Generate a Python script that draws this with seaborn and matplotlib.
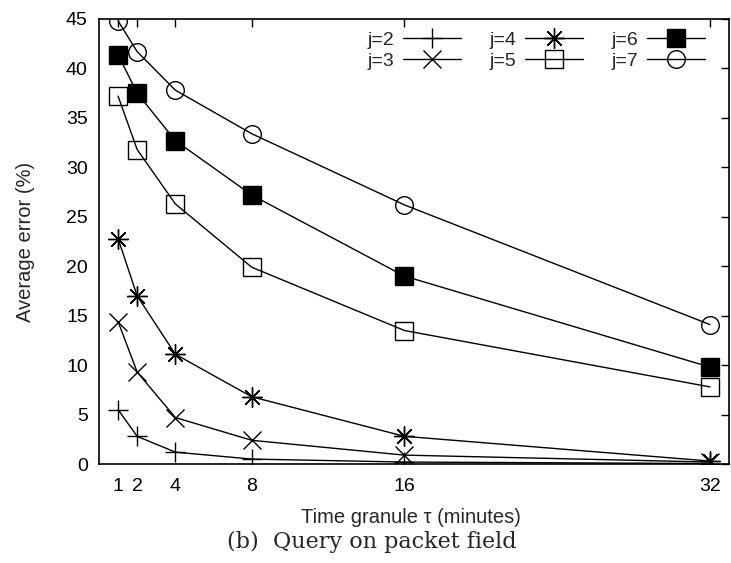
import matplotlib
matplotlib.use("Agg")
import matplotlib.pyplot as plt
import seaborn as sns
import pandas as pd

sns.set_theme(style="white")
plt.rcParams['font.family'] = ['Liberation Sans', 'DejaVu Sans']

x_vals = [1, 2, 4, 8, 16, 32]
j2 = [5.5, 2.8, 1.2, 0.5, 0.2, 0.05]
j3 = [14.4, 9.3, 4.7, 2.4, 0.9, 0.2]
j4 = [22.8, 17.0, 11.1, 6.8, 2.8, 0.3]
j5 = [37.2, 31.8, 26.3, 19.9, 13.5, 7.8]
j6 = [41.4, 37.5, 32.7, 27.2, 19.0, 9.8]
j7 = [44.8, 41.7, 37.8, 33.4, 26.2, 14.1]
series_names = ["j=2", "j=3", "j=4", "j=5", "j=6", "j=7"]
series_vals = [j2, j3, j4, j5, j6, j7]
y_ticks = [0, 5, 10, 15, 20, 25, 30, 35, 40, 45]

styles = {
    "j=2": dict(marker="+", ms=14, mfc="black"),
    "j=3": dict(marker="x", ms=12.5, mfc="black"),
    "j=4": dict(marker=(8, 2, 0), ms=14.5, mfc="black"),
    "j=5": dict(marker="s", ms=12.5, mfc="none"),
    "j=6": dict(marker="s", ms=12.5, mfc="black"),
    "j=7": dict(marker="o", ms=12.7, mfc="none"),
}

fig = plt.figure(figsize=(7.31, 5.63), dpi=100)
ax = fig.add_axes([0.1354, 0.1758, 0.9973 - 0.1354, 0.9663 - 0.1758])

for name, vals in zip(series_names, series_vals):
    df = pd.DataFrame({"x": x_vals, "y": vals})
    st = styles[name]
    sns.lineplot(data=df, x="x", y="y", ax=ax, color="black", linewidth=1.0,
                 marker=st["marker"], markersize=st["ms"],
                 markerfacecolor=st["mfc"], markeredgecolor="black",
                 markeredgewidth=1.0, label=name)

ax.set_xlim(0, 33)
ax.set_ylim(0, 45)
ax.set_xticks(x_vals)
ax.set_xticklabels([str(v) for v in x_vals])
ax.set_yticks(y_ticks)
ax.set_yticklabels([str(v) for v in y_ticks])
ax.tick_params(direction="in", length=6, width=1.0, top=True, right=True,
               labelsize=14, colors="black")
ax.tick_params(axis="x", pad=10)
ax.tick_params(axis="y", pad=8)
for sp in ax.spines.values():
    sp.set_color("black")
    sp.set_linewidth(1.2)
ax.set_xlabel("Time granule τ (minutes)", fontsize=14.5)
ax.set_ylabel("Average error (%)", fontsize=14.5)
ax.xaxis.set_label_coords(0.495, -0.098)
ax.yaxis.set_label_coords(-0.102, 0.5)

handles, labels = ax.get_legend_handles_labels()
leg = ax.legend(handles, labels, ncol=3, loc="upper right", frameon=False,
                markerfirst=False, handlelength=3.0, columnspacing=1.45,
                handletextpad=0.45, labelspacing=0.16, fontsize=14,
                bbox_to_anchor=(0.975, 0.99), borderaxespad=0.2,
                borderpad=0.2)

fig.text(0.509, 0.038, "(b)  Query on packet field", ha="center", va="center",
         fontsize=16, family=["DejaVu Serif"])

fig.savefig("out.png", dpi=100)
